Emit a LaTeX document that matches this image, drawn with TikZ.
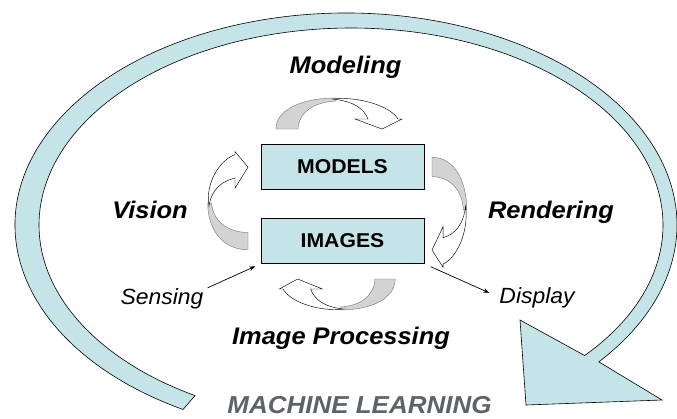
\documentclass[tikz,border=0pt]{standalone}
\usepackage{fontspec}
\setmainfont{Liberation Sans}
\usetikzlibrary{arrows.meta}
\definecolor{ringblue}{HTML}{C5E4E8}
\definecolor{arrgray}{HTML}{D3D3D3}
\definecolor{mlgray}{HTML}{5E636A}
\tikzset{
  pics/curvarr/.style={code={
    \filldraw[fill=arrgray, draw=black!55, line width=0.4pt]
      (-10,0) .. controls (-10,-19) and (15,-31) .. (50,-31) -- (50,-28)
      .. controls (28,-27) and (13,-17) .. (12,0) -- cycle;
    \filldraw[fill=white, draw=black, line width=0.45pt]
      (46,-30) .. controls (75,-33) and (105,-22) .. (112,-10) -- (116,-10) -- (96,0)
      -- (69,-10) -- (82,-10) .. controls (78,-20) and (68,-28) .. (46,-30) -- cycle;
  }},
  lab/.style={font=\bfseries\itshape\fontsize{24}{24}\selectfont, anchor=base, inner sep=0pt, xscale=1.06},
  sublab/.style={font=\itshape\fontsize{22}{22}\selectfont, anchor=base, inner sep=0pt, xscale=1.04},
  box/.style={draw=black, fill=ringblue, line width=0.6pt, minimum width=163pt, minimum height=45pt,
    inner sep=0pt, font=\bfseries\fontsize{20}{20}\selectfont},
  conn/.style={line width=0.7pt, -{Stealth[length=6pt,width=4.5pt]}},
}
\begin{document}
\begin{tikzpicture}[x=1pt,y=-1pt]
\useasboundingbox (0,0) rectangle (677,418);
% big machine-learning ring
\filldraw[fill=ringblue, draw=black, line width=0.6pt]
  ([shift={(346,225)}]119.5:331 and 212)
  arc[start angle=119.5, end angle=400.2, x radius=331, y radius=212]
  -- (662,400) -- (526,405) -- (520,320)
  -- ([shift={(351,225)}]401.5:312 and 197)
  arc[start angle=401.5, end angle=120, x radius=312, y radius=197]
  -- cycle;
% boxes
\node[box] (models) at (342.5,166.5) {\scalebox{1.06}[1]{MODELS}};
\node[box] (images) at (342.5,241) {\scalebox{1.06}[1]{IMAGES}};
% curved arrows
\path (286,129) pic (modarr) {curvarr};
\path (432,166) pic[rotate=-90, xscale=0.875, yscale=1.12] (renarr) {curvarr};
\path (386,279) pic[rotate=180, xscale=0.92, yscale=1.0] (procarr) {curvarr};
\path (248,242) pic[rotate=90, xscale=0.78, yscale=1.3] (visarr) {curvarr};
% labels
\node[lab] (modeling) at (345.5,73) {Modeling};
\node[lab] (vision) at (150,218) {Vision};
\node[lab] (rendering) at (551,218) {Rendering};
\node[lab] (improc) at (341,344) {Image Processing};
\node[sublab] (sensing) at (162,304) {Sensing};
\node[sublab] (display) at (537,303) {Display};
\node[lab, text=mlgray, font=\bfseries\itshape\fontsize{24.5}{24.5}\selectfont] (ml) at (359.5,413) {MACHINE LEARNING};
% connectors
\draw[conn, shorten >=6pt] ([xshift=4pt]sensing.north east) -- (images.south west);
\draw[conn, shorten <=7pt, shorten >=11pt] (images.south east) -- (display.west);
\end{tikzpicture}
\end{document}
